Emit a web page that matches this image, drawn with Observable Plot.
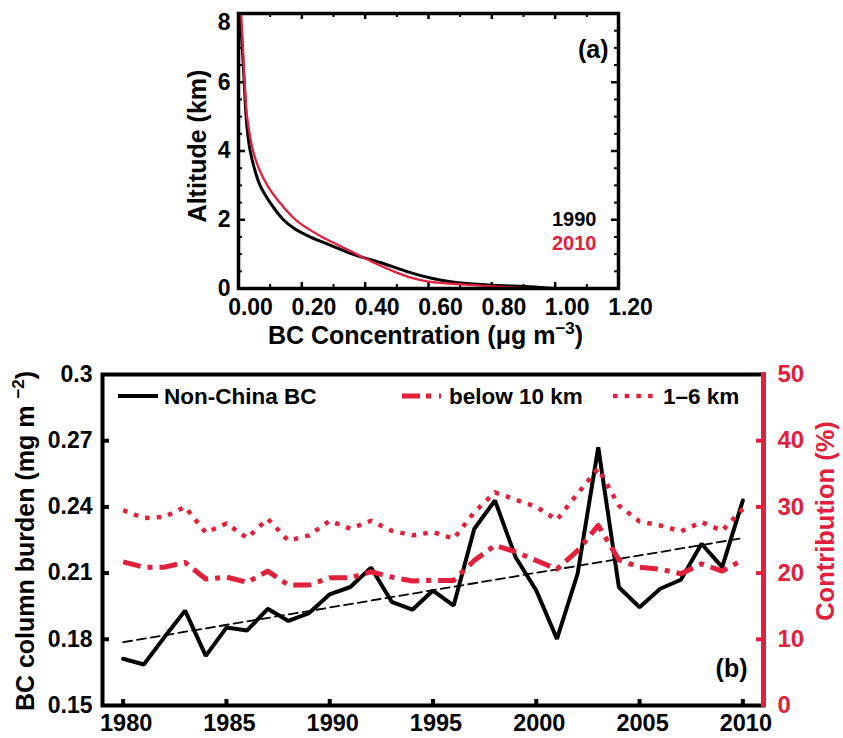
<!DOCTYPE html>
<html><head><meta charset="utf-8">
<script src="https://cdn.jsdelivr.net/npm/d3@7"></script>
<script src="https://cdn.jsdelivr.net/npm/@observablehq/plot@0.6"></script>
<style>
body{margin:0;background:#fff;}
#wrap{position:relative;width:843px;height:738px;overflow:hidden;background:#fff;}
#wrap svg{position:absolute;}
</style></head><body><div id="wrap"></div>
<script>
// ---------- Panel (a) data ----------
const altitude = [0, 0.05, 0.1, 0.2, 0.3, 0.5, 0.75, 1, 1.25, 1.5, 1.75, 2, 2.5, 3, 3.5, 4, 4.5, 5, 6, 7, 8];
const conc1990 = [1.0, 0.92, 0.79, 0.67, 0.61, 0.53, 0.45, 0.36, 0.293, 0.226, 0.175, 0.142, 0.10, 0.068, 0.05, 0.037, 0.029, 0.024, 0.018, 0.012, 0.005];
const conc2010 = [0.925, 0.83, 0.74, 0.60, 0.55, 0.49, 0.428, 0.373, 0.318, 0.264, 0.218, 0.180, 0.130, 0.091, 0.064, 0.046, 0.035, 0.027, 0.019, 0.014, 0.008];
const aXMajor = [0, 0.2, 0.4, 0.6, 0.8, 1.0, 1.2];
const aXMinor = [0.1, 0.3, 0.5, 0.7, 0.9, 1.1];
const aYMajor = [0, 2, 4, 6];
const aYTop = [8];
const aYMinor = [0.5, 1, 1.5, 2.5, 3, 3.5, 4.5, 5, 5.5, 6.5, 7, 7.5];
const aLegend = ["1990", "2010"];

// ---------- Panel (b) data ----------
const years = [1980,1981,1982,1983,1984,1985,1986,1987,1988,1989,1990,1991,1992,1993,1994,1995,1996,1997,1998,1999,2000,2001,2002,2003,2004,2005,2006,2007,2008,2009,2010];
const nonChinaBC = [0.1712,0.1686,0.181,0.193,0.1725,0.1853,0.184,0.1938,0.1883,0.1919,0.2004,0.2037,0.2125,0.197,0.1934,0.2021,0.1953,0.2301,0.2429,0.2172,0.2021,0.1802,0.2097,0.267,0.2036,0.1945,0.2029,0.207,0.2233,0.2127,0.2429];
const below10km = [21.7,20.9,20.9,21.6,19.1,19.4,18.6,20.3,18.2,18.2,19.3,19.3,20.2,19.4,18.8,18.9,18.9,21.9,24.2,23.2,21.9,20.6,23.4,27.2,22.0,20.9,20.6,19.9,21.4,20.3,22.0];
const km1to6 = [29.5,28.3,28.5,30.0,26.1,27.5,25.3,28.2,24.9,25.7,27.9,26.7,27.9,26.4,25.7,26.2,25.2,29.2,32.2,31.1,30.0,28.05,32.0,35.8,30.2,27.8,27.2,26.3,27.7,26.4,29.7];
const bXTicks = [1980,1985,1990,1995,2000,2005,2010];
const bYLeftTicks = [0.15,0.18,0.21,0.24,0.27,0.3];
const bYLeftInner = [0.18,0.21,0.24,0.27];
const bYRightTicks = [0,10,20,30,40,50];
const bYRightInner = [10,20,30,40];
const bLegend = ["Non-China BC","below 10 km","1\u20136 km"];
const bXDomain = [1979, 2011];

// ---------- styles ----------
const RED = "#e2203b";
const FONT = "'Liberation Sans', Arial, Helvetica, sans-serif";
const TICK = 23, TITLE = 25;
const wrap = document.getElementById("wrap");
const baseStyle = {background: "transparent", fontFamily: FONT, overflow: "visible", color: "black"};

function place(svg, left, top) {
  svg.style.left = left + "px";
  svg.style.top = top + "px";
  wrap.appendChild(svg);
  return svg;
}
function supify(root) {
  d3.select(root).selectAll("text").each(function () {
    const t = this.textContent;
    const m = t.match(/^(.*)\^\{(.+)\}(.*)$/);
    if (!m) return;
    const el = d3.select(this);
    el.text(null).attr("text-anchor", "middle");
    el.append("tspan").text(m[1]);
    el.append("tspan").attr("dy", "-10").attr("font-size", "17px").text(m[2]);
    el.append("tspan").attr("dy", "10").text(m[3]);
  });
}

// ---------- Panel (a) ----------
const profile = altitude.map((a, i) => ({alt: a, c1990: conc1990[i], c2010: conc2010[i]}));
const aW = 843, aH = 360, aML = 238, aMR = 225, aMT = 13, aMB = 72;
const aFW = aW - aML - aMR, aFH = aH - aMT - aMB;
const bold = {fontWeight: "bold"};
const plotA = Plot.plot({
  width: aW, height: aH,
  marginLeft: aML, marginRight: aMR, marginTop: aMT, marginBottom: aMB,
  x: {domain: [0, 1.2], axis: null},
  y: {domain: [0, 8], axis: null},
  style: baseStyle,
  marks: [
    Plot.ruleX(aXMinor, {x: d => d, insetTop: aFH - 4, strokeWidth: 2}),
    Plot.ruleX(aXMinor, {x: d => d, insetBottom: aFH - 4, strokeWidth: 2}),
    Plot.ruleX(aXMajor, {x: d => d, insetTop: aFH - 6, strokeWidth: 2.5}),
    Plot.ruleX(aXMajor, {x: d => d, insetBottom: aFH - 6, strokeWidth: 2.5}),
    Plot.ruleY(aYMinor, {y: d => d, insetRight: aFW - 4, strokeWidth: 2}),
    Plot.ruleY(aYMinor, {y: d => d, insetLeft: aFW - 4, strokeWidth: 2}),
    Plot.ruleY(aYMajor, {y: d => d, insetRight: aFW - 7, strokeWidth: 2.5}),
    Plot.ruleY(aYMajor, {y: d => d, insetLeft: aFW - 7, strokeWidth: 2.5}),
    Plot.line(profile, {x: "c1990", y: "alt", stroke: "black", strokeWidth: 3, curve: "catmull-rom"}),
    Plot.line(profile, {x: "c2010", y: "alt", stroke: RED, strokeWidth: 2.3, curve: "catmull-rom"}),
    Plot.frame({stroke: "black", strokeWidth: 3.5}),
    Plot.text(aXMajor, {x: d => d, text: d => d.toFixed(2), frameAnchor: "bottom", lineAnchor: "middle", dy: 19, dx: 12, fontSize: TICK, ...bold}),
    Plot.text(aYMajor, {y: d => d, text: d => String(d), frameAnchor: "left", textAnchor: "end", dx: -8, fontSize: TICK, ...bold}),
    Plot.text(aYTop, {y: d => d, text: d => String(d), frameAnchor: "left", textAnchor: "end", dx: -8, dy: 9, fontSize: TICK, ...bold}),
    Plot.text(["Altitude (km)"], {frameAnchor: "left", textAnchor: "middle", rotate: -90, dx: -41, dy: -5, fontSize: TITLE, ...bold}),
    Plot.text(["BC Concentration (\u03bcg m^{\u22123})"], {frameAnchor: "bottom", textAnchor: "middle", dy: 55, dx: -3, fontSize: TITLE, ...bold}),
    Plot.text(["(a)"], {frameAnchor: "top-right", textAnchor: "end", dx: -10, dy: 27, fontSize: TITLE, ...bold}),
    Plot.text([aLegend[0]], {frameAnchor: "bottom-right", textAnchor: "end", dx: -22, dy: -63, fontSize: 20, ...bold, fill: "black"}),
    Plot.text([aLegend[1]], {frameAnchor: "bottom-right", textAnchor: "end", dx: -22, dy: -39, fontSize: 20, ...bold, fill: RED})
  ]
});
supify(plotA);
place(plotA, 0, 0);

// ---------- Panel (b) ----------
const series = years.map((y, i) => ({year: y, bc: nonChinaBC[i], b10: below10km[i], k16: km1to6[i]}));
const bW = 843, bH = 398, bML = 102, bMR = 80, bMT = 34, bMB = 33;
const bFW = bW - bML - bMR, bFH = bH - bMT - bMB;
const plotB = Plot.plot({
  width: bW, height: bH,
  marginLeft: bML, marginRight: bMR, marginTop: bMT, marginBottom: bMB,
  x: {domain: bXDomain, axis: null},
  y: {domain: [0.15, 0.3], axis: null},
  style: baseStyle,
  marks: [
    Plot.ruleX(bXTicks, {x: d => d, insetTop: bFH - 6, strokeWidth: 4}),
    Plot.ruleY(bYLeftInner, {y: d => d, insetRight: bFW - 7, strokeWidth: 4}),
    Plot.linearRegressionY(series, {x: "year", y: "bc", ci: 0, stroke: "black", strokeWidth: 1.8, strokeDasharray: "9,5"}),
    Plot.line(series, {x: "year", y: "bc", stroke: "black", strokeWidth: 4, strokeLinejoin: "miter"}),
    Plot.frame({stroke: "black", strokeWidth: 4}),
    Plot.text(bXTicks, {x: d => d, text: d => String(d), frameAnchor: "bottom", lineAnchor: "middle", dy: 18, dx: 3, fontSize: 23.5, ...bold}),
    Plot.text(bYLeftTicks, {y: d => d, text: d => String(d), frameAnchor: "left", textAnchor: "end", dx: -10, fontSize: TICK, ...bold}),
    Plot.text(["BC column burden (mg m ^{\u22122})"], {frameAnchor: "left", textAnchor: "middle", rotate: -90, dx: -77, dy: 1, fontSize: TITLE, ...bold}),
    Plot.text(["(b)"], {frameAnchor: "bottom-right", textAnchor: "end", dx: -16, dy: -29, fontSize: TITLE, ...bold})
  ]
});
supify(plotB);
place(plotB, 0, 340);

const plotC = Plot.plot({
  width: bW, height: bH,
  marginLeft: bML, marginRight: bMR, marginTop: bMT, marginBottom: bMB,
  x: {domain: bXDomain, axis: null},
  y: {domain: [0, 50], axis: null},
  style: baseStyle,
  marks: [
    Plot.line(series, {x: "year", y: "k16", stroke: RED, strokeWidth: 4.5, strokeDasharray: "4.5,7.2", strokeLinecap: "butt"}),
    Plot.line(series, {x: "year", y: "b10", stroke: RED, strokeWidth: 5, strokeDasharray: "18,7,5,7", strokeLinecap: "butt"}),
    Plot.ruleY(bYRightInner, {y: d => d, insetLeft: bFW - 7, stroke: RED, strokeWidth: 4}),
    Plot.ruleX([bXDomain[1]], {x: d => d, stroke: RED, strokeWidth: 5, insetTop: -2, insetBottom: -2}),
    Plot.text(bYRightTicks, {y: d => d, text: d => String(d), frameAnchor: "right", textAnchor: "start", dx: 14, fontSize: 24, ...bold, fill: RED}),
    Plot.text(["Contribution (%)"], {frameAnchor: "right", textAnchor: "middle", rotate: -90, dx: 62, dy: -19, fontSize: 25.5, ...bold, fill: RED})
  ]
});
place(plotC, 0, 340);

// ---------- Legend of panel (b) ----------
const leg = d3.create("svg").attr("width", 843).attr("height", 40)
  .style("left", "0px").style("top", "376px").style("font-family", FONT);
const legItems = [
  {label: bLegend[0], x1: 118, x2: 158, tx: 164, stroke: "black", width: 4, dash: null},
  {label: bLegend[1], x1: 402, x2: 441, tx: 449, stroke: RED, width: 5, dash: "18,6,5,8"},
  {label: bLegend[2], x1: 613, x2: 659, tx: 663, stroke: RED, width: 4.5, dash: "4.5,7.2"}
];
const g = leg.selectAll("g").data(legItems).join("g");
g.append("line").attr("x1", d => d.x1).attr("x2", d => d.x2).attr("y1", 20).attr("y2", 20)
  .attr("stroke", d => d.stroke).attr("stroke-width", d => d.width)
  .attr("stroke-dasharray", d => d.dash).attr("stroke-linecap", "butt");
g.append("text").attr("x", d => d.tx).attr("y", 20).attr("dy", "0.36em")
  .attr("font-size", 22.5).attr("font-weight", "bold").attr("fill", "black").text(d => d.label);
wrap.appendChild(leg.node());
</script>
</body></html>
